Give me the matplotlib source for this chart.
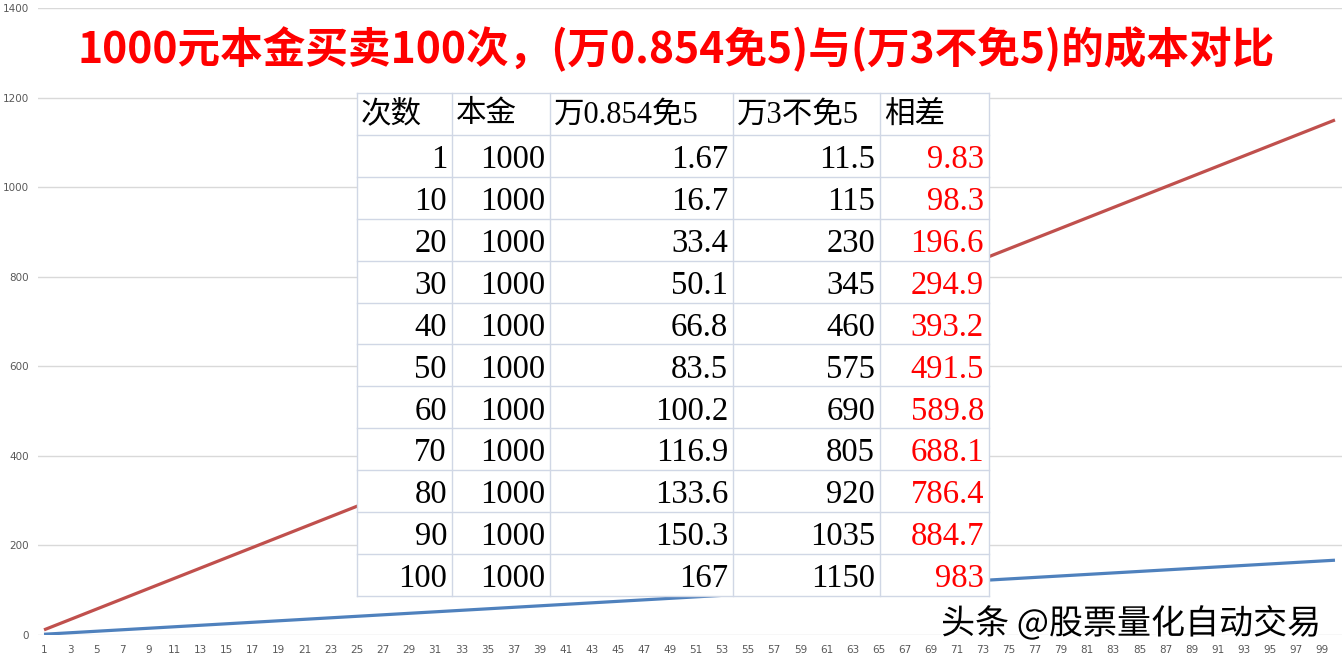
import matplotlib
matplotlib.use("Agg")
import matplotlib.pyplot as plt
import matplotlib.patheffects as pe
from matplotlib.patches import Rectangle

# table / chart data
counts = [1, 10, 20, 30, 40, 50, 60, 70, 80, 90, 100]
principal = [1000] * 11
fee_low = [1.67, 16.7, 33.4, 50.1, 66.8, 83.5, 100.2, 116.9, 133.6, 150.3, 167]
fee_high = [11.5, 115, 230, 345, 460, 575, 690, 805, 920, 1035, 1150]
fee_diff = [9.83, 98.3, 196.6, 294.9, 393.2, 491.5, 589.8, 688.1, 786.4, 884.7, 983]
headers = ["次数", "本金", "万0.854免5", "万3不免5", "相差"]
title = "1000元本金买卖100次，(万0.854免5)与(万3不免5)的成本对比"
watermark = "头条 @股票量化自动交易"

W, H = 1344, 662
fig = plt.figure(figsize=(W / 100, H / 100), dpi=100)
fig.patch.set_facecolor("white")

def fx(x):
    return x / W

def fy(y):
    return 1 - y / H

ax = fig.add_axes([fx(37.5), fy(635), fx(1341.5) - fx(37.5), fy(8) - fy(635)])
ax.plot(counts, fee_high, color="#C0504D", lw=2.3, solid_capstyle="butt", zorder=3)
ax.plot(counts, fee_low, color="#4F81BD", lw=2.3, solid_capstyle="butt", zorder=3)
ax.set_xlim(0.5, 100.5)
ax.set_ylim(0, 1400)
ax.set_xticks(range(1, 100, 2))
ax.set_yticks(range(0, 1401, 200))
ax.grid(axis="y", color="#D9D9D9", lw=1)
ax.set_axisbelow(True)
for s in ax.spines.values():
    s.set_visible(False)
ax.tick_params(length=0, labelsize=7.5, labelcolor="#595959")
ax.tick_params(axis="y", pad=6)
ax.tick_params(axis="x", pad=7)

# title
fig.text(fx(676), fy(49), title, color="#FF0000", fontsize=30.7, fontweight="bold",
         family=["Noto Sans CJK SC", "DejaVu Sans"], ha="center", va="center")

# table overlay
col_x = [357, 452, 550, 733, 880, 989]
top, row_h = 93, 41.9
n_rows = len(counts) + 1
bottom = top + n_rows * row_h
fig.patches.append(Rectangle((fx(col_x[0]), fy(bottom)), fx(col_x[-1] - col_x[0]),
                             (bottom - top) / H, transform=fig.transFigure,
                             facecolor="white", edgecolor="none", zorder=5))
grid_c = "#D0D7E5"
for x in col_x:
    fig.add_artist(plt.Line2D([fx(x), fx(x)], [fy(top), fy(bottom)], color=grid_c, lw=1, zorder=6))
for i in range(n_rows + 1):
    y = top + i * row_h
    fig.add_artist(plt.Line2D([fx(col_x[0]), fx(col_x[-1])], [fy(y), fy(y)], color=grid_c, lw=1, zorder=6))

cell_font = ["Liberation Serif", "Noto Sans CJK SC"]
for j, h in enumerate(headers):
    fig.text(fx(col_x[j] + 4), fy(top + row_h / 2 + 1), h, fontsize=22, family=cell_font,
             ha="left", va="center", zorder=7)
for i in range(len(counts)):
    yc = top + (i + 1.5) * row_h + 4
    row = [counts[i], principal[i], fee_low[i], fee_high[i], fee_diff[i]]
    for j, v in enumerate(row):
        fig.text(fx(col_x[j + 1] - 5), fy(yc), f"{v:g}", fontsize=23.5, family=cell_font,
                 color="#FF0000" if j == 4 else "black", ha="right", va="center", zorder=7)

# watermark
fig.text(fx(1131), fy(624), watermark, fontsize=24.5, color="black",
         family=["Noto Sans CJK SC", "DejaVu Sans"], ha="center", va="center", zorder=8,
         path_effects=[pe.withStroke(linewidth=3, foreground="white")])

fig.savefig("out.png", dpi=100)
